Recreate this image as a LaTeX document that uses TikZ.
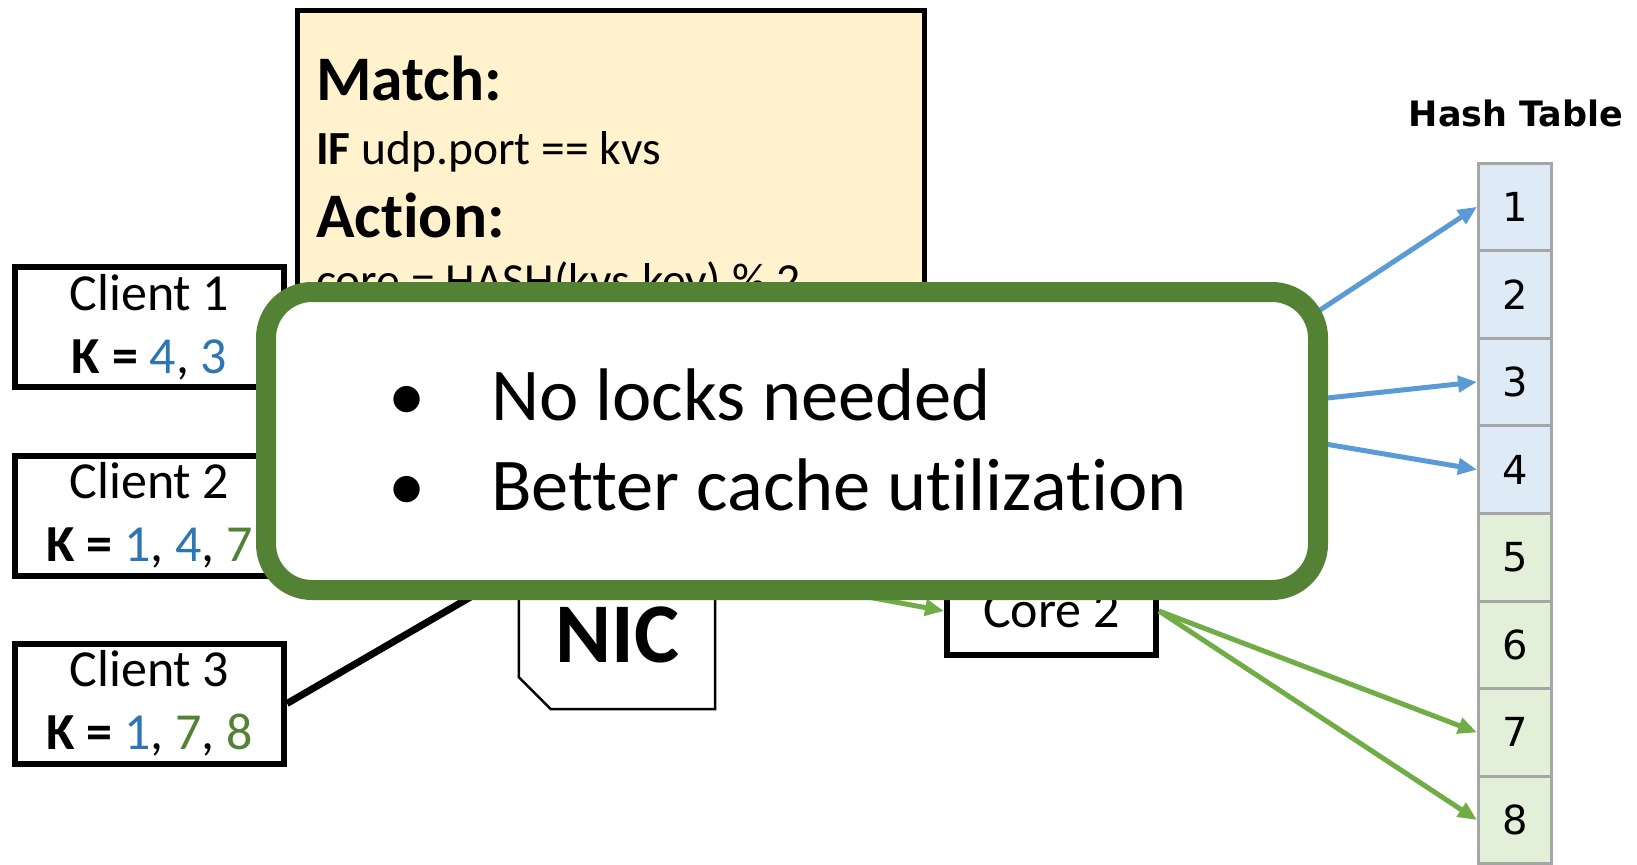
\documentclass[tikz,border=0pt]{standalone}
\usepackage{fontspec}
\setmainfont{Carlito}[Ligatures=NoCommon]
\newfontfamily\tablefont{DejaVu Sans}
\usetikzlibrary{arrows.meta, positioning}
\definecolor{KeyBlue}{HTML}{2E75B6}
\definecolor{KeyGreen}{HTML}{548235}
\definecolor{NoteGreen}{HTML}{548235}
\definecolor{LinkBlue}{HTML}{5B9BD5}
\definecolor{LinkGreen}{HTML}{70AD47}
\definecolor{CellBlue}{HTML}{DEEBF7}
\definecolor{CellGreen}{HTML}{E2F0D9}
\definecolor{CellLine}{HTML}{A6A6A6}
\definecolor{RuleFill}{HTML}{FFF2CC}
\newcommand{\kb}[1]{\textcolor{KeyBlue}{#1}}
\newcommand{\kg}[1]{\textcolor{KeyGreen}{#1}}

\begin{document}
\begin{tikzpicture}[
    x=1pt, y=-1pt,
    client/.style={
      draw, line width=6pt, fill=white, minimum width=269pt, minimum height=120pt,
      align=center, inner sep=0pt, font=\fontsize{52}{63}\selectfont
    },
    cell/.style={
      draw=CellLine, line width=3pt, minimum width=73pt, minimum height=87.6pt,
      inner sep=0pt, font=\tablefont\fontsize{40}{42}\selectfont
    },
    link/.style={line width=5pt, -{Triangle[length=19pt,width=16pt]}},
    head/.style={anchor=base west, inner sep=0pt, font=\bfseries\fontsize{63.5}{70}\selectfont},
    code/.style={anchor=base west, inner sep=0pt, font=\fontsize{47.5}{56}\selectfont},
    point/.style={anchor=base west, inner sep=0pt, font=\fontsize{74.5}{88}\selectfont}
  ]
    \useasboundingbox (0,0) rectangle (1637,864);
    \clip (0,0) rectangle (1637,864);

    % match/action rule
    \node[draw, line width=5pt, fill=RuleFill, minimum width=627pt, minimum height=417pt] (rule) at (611,219) {};
    \node[head] (mhead) at (316,101) {Match:};
    \node[code] (mcode) at (316,164) {\textbf{IF} udp.port == kvs};
    \node[head] (ahead) at (316,237) {Action:};
    \node[code] (acode) at (316,296) {core = HASH(kvs.key) \% 2};

    % clients
    \node[client] (c1) at (149.5,327) {Client 1\\\textbf{K =} \kb{4}, \kb{3}};
    \node[client] (c2) at (149.5,515.5) {Client 2\\\textbf{K =} \kb{1}, \kb{4}, \kg{7}};
    \node[client] (c3) at (149.5,703.5) {Client 3\\\textbf{K =} \kb{1}, \kg{7}, \kg{8}};

    % NIC and cores
    \node[minimum width=196pt, minimum height=280pt, inner sep=0pt] (nic) at (617,569) {};
    \draw[line width=2.5pt, fill=white] (nic.north west) -- ([yshift=32pt]nic.south west)
      -- ([xshift=32pt]nic.south west) -- (nic.south east) -- (nic.north east) -- cycle;
    \node[inner sep=0pt, font=\bfseries\fontsize{85}{90}\selectfont] (niclbl) at (617.5,635) {NIC};
    \coordinate (core1) at (1159,416);
    \node[draw, line width=6pt, fill=white, minimum width=209pt, minimum height=88pt,
      font=\fontsize{52}{60}\selectfont] (core2) at (1051.5,611) {Core 2};

    \draw[line width=7pt] (c3.east) -- (nic.west);
    \draw[link, LinkGreen] (nic.east) -- (core2.west);

    % hash table
    \node[font=\tablefont\bfseries\fontsize{35}{40}\selectfont] (htitle) at (1516,113) {Hash Table};
    \foreach \i in {1,...,4}
      \node[cell, fill=CellBlue] (h\i) at (1515,{119.2+87.6*\i}) {\i};
    \foreach \i in {5,...,8}
      \node[cell, fill=CellGreen] (h\i) at (1515,{119.2+87.6*\i}) {\i};

    \foreach \i in {1,3,4}
      \draw[link, LinkBlue] (core1) -- (h\i.west);
    \foreach \i in {7,8}
      \draw[link, LinkGreen] (core2.east) -- (h\i.west);

    % takeaway box on top
    \node[draw=NoteGreen, line width=20pt, fill=white, rounded corners=46pt,
      minimum width=1052pt, minimum height=298pt] (note) at (792,441) {};
    \node[anchor=base, inner sep=0pt, font=\fontsize{74.5}{88}\selectfont] (d1) at (407,420) {\textbullet};
    \node[point] (p1) at (491,420) {No locks needed};
    \node[anchor=base, inner sep=0pt, font=\fontsize{74.5}{88}\selectfont] (d2) at (407,510) {\textbullet};
    \node[point] (p2) at (491,510) {Better cache utilization};
  \end{tikzpicture}
\end{document}
